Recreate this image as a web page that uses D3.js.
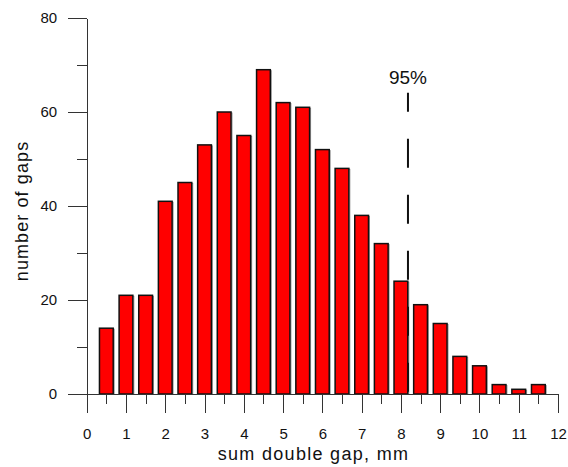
<!DOCTYPE html>
<html>
<head>
<meta charset="utf-8">
<script src="https://cdn.jsdelivr.net/npm/d3@7"></script>
<style>
  body { margin: 0; background: #fff; }
  text { font-family: Arial, "Liberation Sans", sans-serif; fill: #111; }
  .axis path, .axis line { stroke: #333; stroke-width: 1; shape-rendering: crispEdges; }
  .axis text { font-size: 15px; font-family: Arial, "Liberation Sans", sans-serif; fill: #111; }
</style>
</head>
<body>
<div id="chart"></div>
<script>
// bin centres (mm) and counts
const binCentres = [0.5, 1, 1.5, 2, 2.5, 3, 3.5, 4, 4.5, 5, 5.5, 6, 6.5, 7, 7.5, 8, 8.5, 9, 9.5, 10, 10.5, 11, 11.5];
const gapCounts = [14, 21, 21, 41, 45, 53, 60, 55, 69, 62, 61, 52, 48, 38, 32, 24, 19, 15, 8, 6, 2, 1, 2];

const xMajorTicks = [0, 1, 2, 3, 4, 5, 6, 7, 8, 9, 10, 11, 12];
const xMinorTicks = [0.5, 1.5, 2.5, 3.5, 4.5, 5.5, 6.5, 7.5, 8.5, 9.5, 10.5, 11.5];
const yMajorTicks = [0, 20, 40, 60, 80];
const yMinorTicks = [10, 30, 50, 70];

// 95% marker
const pct95 = [8.18];
const pct95Top = [64.1];

const width = 568, height = 467;

const svg = d3.select('#chart').append('svg')
    .attr('width', width)
    .attr('height', height);

const xScale = d3.scaleLinear().domain([0, 12]).range([86.7, 558]);
const yScale = d3.scaleLinear().domain([0, 80]).range([394, 18]);

const barW = 0.35;

// bars (with a faint grey shadow)
const bars = svg.append('g');
bars.selectAll('.shadow')
    .data(binCentres)
    .join('rect')
    .attr('class', 'shadow')
    .attr('x', d => xScale(d - barW / 2) + 1)
    .attr('y', (d, i) => yScale(gapCounts[i]) + 1)
    .attr('width', xScale(barW) - xScale(0))
    .attr('height', (d, i) => yScale(0) - yScale(gapCounts[i]) - 1)
    .attr('fill', 'none')
    .attr('stroke', '#999')
    .attr('stroke-width', 1);

bars.selectAll('.bar')
    .data(binCentres)
    .join('rect')
    .attr('class', 'bar')
    .attr('x', d => xScale(d - barW / 2))
    .attr('y', (d, i) => yScale(gapCounts[i]))
    .attr('width', xScale(barW) - xScale(0))
    .attr('height', (d, i) => yScale(0) - yScale(gapCounts[i]))
    .attr('fill', '#ff0000')
    .attr('stroke', '#111')
    .attr('stroke-width', 1.5);

// axes: major and minor ticks
const xAxisG = svg.append('g')
    .attr('class', 'axis')
    .attr('transform', `translate(0,${yScale(0)})`);
xAxisG.call(d3.axisBottom(xScale).tickValues(xMajorTicks).tickSize(19).tickSizeOuter(0).tickPadding(15).tickFormat(d3.format('d')));
xAxisG.selectAll('text').attr('dy', '0.71em');

svg.append('g')
    .attr('class', 'axis')
    .attr('transform', `translate(0,${yScale(0)})`)
    .call(d3.axisBottom(xScale).tickValues(xMinorTicks).tickSize(10).tickSizeOuter(0).tickFormat(''))
    .select('.domain').remove();

svg.append('g')
    .attr('class', 'axis')
    .attr('transform', `translate(${xScale(0)},0)`)
    .call(d3.axisLeft(yScale).tickValues(yMajorTicks).tickSize(19).tickSizeOuter(0).tickPadding(10.5));

svg.append('g')
    .attr('class', 'axis')
    .attr('transform', `translate(${xScale(0)},0)`)
    .call(d3.axisLeft(yScale).tickValues(yMinorTicks).tickSize(10).tickSizeOuter(0).tickFormat(''))
    .select('.domain').remove();

// 95% dashed line
svg.selectAll('.p95')
    .data(pct95)
    .join('line')
    .attr('class', 'p95')
    .attr('x1', d => xScale(d))
    .attr('x2', d => xScale(d))
    .attr('y1', yScale(pct95Top[0]))
    .attr('y2', yScale(0))
    .attr('stroke', '#111')
    .attr('stroke-width', 2)
    .attr('stroke-dasharray', '29,27')
    .attr('stroke-dashoffset', 10);

svg.append('text')
    .attr('x', xScale(pct95[0]))
    .attr('y', 84)
    .attr('text-anchor', 'middle')
    .style('font-size', '19px')
    .text('95%');

// axis titles
svg.append('text')
    .attr('x', 313.5)
    .attr('y', 460)
    .attr('text-anchor', 'middle')
    .style('font-size', '18px')
    .style('letter-spacing', '1.3px')
    .text('sum double gap, mm');

svg.append('text')
    .attr('transform', 'translate(28,211) rotate(-90)')
    .attr('text-anchor', 'middle')
    .style('font-size', '18px')
    .style('letter-spacing', '1.1px')
    .text('number of gaps');
</script>
</body>
</html>
